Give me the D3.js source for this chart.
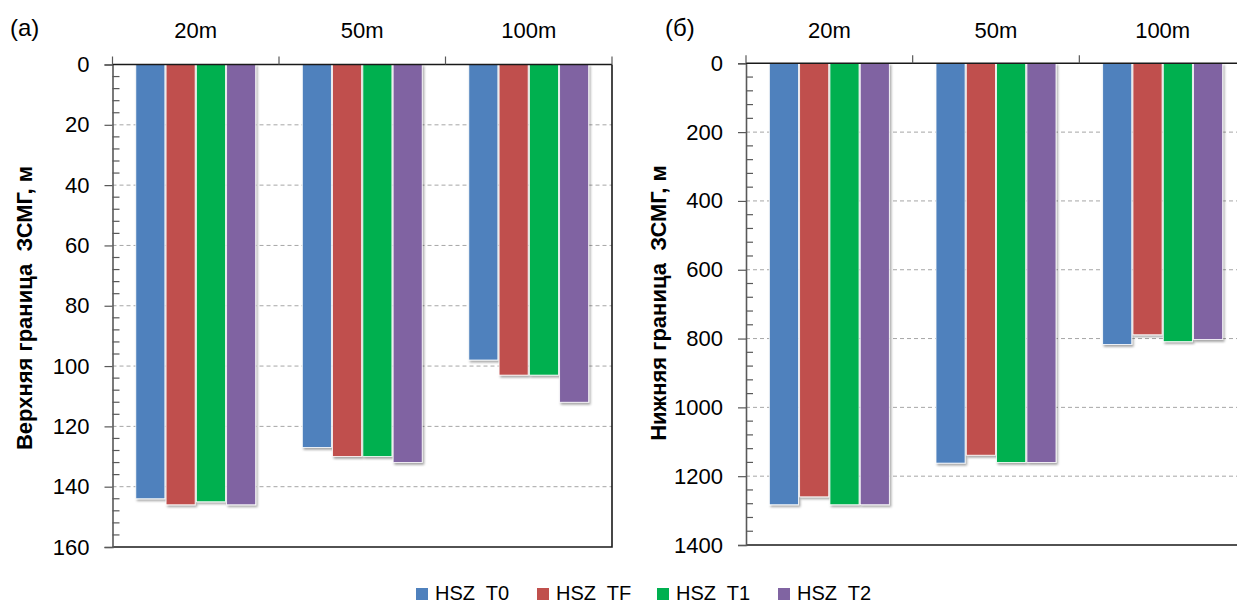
<!DOCTYPE html>
<html>
<head>
<meta charset="utf-8">
<script src="https://cdn.jsdelivr.net/npm/d3@7"></script>
<style>
  html, body { margin: 0; padding: 0; background: #ffffff; }
  svg { display: block; font-family: "Liberation Sans", Arial, sans-serif; }
  text { white-space: pre; }
</style>
</head>
<body>
<svg id="chart" width="1237" height="603"></svg>
<script>
// ---- data ----
const categories = ["20m", "50m", "100m"];
const seriesNames = ["HSZ  T0", "HSZ  TF", "HSZ  T1", "HSZ  T2"];
const seriesColors = ["#4F81BD", "#C0504D", "#00B050", "#8064A2"];

// (а) upper boundary of the hydrate stability zone, m
const upperT0 = [144, 127, 98];
const upperTF = [146, 130, 103];
const upperT1 = [145, 130, 103];
const upperT2 = [146, 132, 112];

// (б) lower boundary of the hydrate stability zone, m
const lowerT0 = [1283, 1162, 817];
const lowerTF = [1260, 1139, 789];
const lowerT1 = [1283, 1160, 809];
const lowerT2 = [1283, 1160, 803];

const upperTicks = [0, 20, 40, 60, 80, 100, 120, 140, 160];
const lowerTicks = [0, 200, 400, 600, 800, 1000, 1200, 1400];

const panelLetters = ["(а)", "(б)"];
const axisTitles = ["Верхняя граница  ЗСМГ, м", "Нижняя граница  ЗСМГ, м"];

// ---- drawing ----
const svg = d3.select("#chart");
const defs = svg.append("defs");
const f = defs.append("filter").attr("id", "shadow")
  .attr("x", "-20%").attr("y", "-5%").attr("width", "150%").attr("height", "120%");
f.append("feDropShadow").attr("dx", 1.5).attr("dy", 2).attr("stdDeviation", 1.2)
  .attr("flood-color", "#000").attr("flood-opacity", 0.35);

function drawPanel(cfg) {
  const { left, right, top, bottom, max, ticks, minorStep, series, letter, title, letterX, titleX, titleY } = cfg;
  const g = svg.append("g");

  const y = d3.scaleLinear().domain([0, max]).range([top, bottom]);
  const xCat = d3.scaleBand().domain(categories).range([left, right]).padding(0);
  const xSer = d3.scaleBand().domain(seriesNames).range([0, xCat.bandwidth()])
    .paddingInner(0.04).paddingOuter(0.77);

  // gridlines
  g.append("g").selectAll("line")
    .data(ticks.filter(t => t > 0 && t < max))
    .join("line")
    .attr("x1", left).attr("x2", right)
    .attr("y1", d => y(d)).attr("y2", d => y(d))
    .attr("stroke", "#a6a6a6").attr("stroke-width", 1)
    .attr("stroke-dasharray", "4,3");

  // bars
  const rows = [];
  categories.forEach((c, i) => {
    seriesNames.forEach((s, j) => rows.push({ c, s, j, v: series[j][i] }));
  });
  g.append("g").selectAll("rect")
    .data(rows)
    .join("rect")
    .attr("x", d => xCat(d.c) + xSer(d.s))
    .attr("y", y(0))
    .attr("width", xSer.bandwidth())
    .attr("height", d => y(d.v) - y(0))
    .attr("fill", d => seriesColors[d.j])
    .attr("stroke", "#ffffff").attr("stroke-width", 0.8)
    .attr("filter", "url(#shadow)");

  // plot border right & bottom
  g.append("path")
    .attr("d", `M${right},${top}V${bottom}H${left}`)
    .attr("fill", "none").attr("stroke", "#1a1a1a").attr("stroke-width", 1.6);

  // y axis
  const yAxis = d3.axisLeft(y).tickValues(ticks).tickSize(8).tickPadding(15)
    .tickFormat(d3.format("d"));
  const ya = g.append("g").attr("transform", `translate(${left},0)`).call(yAxis);
  ya.select(".domain").attr("stroke", "#595959").attr("stroke-width", 1.6);
  ya.selectAll(".tick line").attr("stroke", "#595959").attr("stroke-width", 1.2);
  ya.selectAll(".tick text").attr("font-size", 22).attr("fill", "#000")
    .attr("font-family", "Liberation Sans, Arial, sans-serif");

  // minor ticks (inside)
  const minors = d3.range(0, max + 1e-9, minorStep).filter(v => !ticks.includes(v));
  g.append("g").selectAll("line").data(minors).join("line")
    .attr("x1", left).attr("x2", left + 7)
    .attr("y1", d => y(d)).attr("y2", d => y(d))
    .attr("stroke", "#595959").attr("stroke-width", 1.2);

  // top category axis
  g.append("line").attr("x1", left).attr("x2", right).attr("y1", top).attr("y2", top)
    .attr("stroke", "#1a1a1a").attr("stroke-width", 1.6);
  const bounds = categories.map(c => xCat(c)).concat([right]);
  g.append("g").selectAll("line").data(bounds).join("line")
    .attr("x1", d => d).attr("x2", d => d)
    .attr("y1", top - 8).attr("y2", top)
    .attr("stroke", "#595959").attr("stroke-width", 1.2);
  g.append("g").selectAll("text").data(categories).join("text")
    .attr("x", d => xCat(d) + xCat.bandwidth() / 2)
    .attr("y", 38)
    .attr("text-anchor", "middle")
    .attr("font-size", 22).attr("fill", "#000")
    .text(d => d);

  // panel letter
  svg.append("text").attr("x", letterX).attr("y", 36)
    .attr("font-size", 24).attr("fill", "#000").text(letter);

  // axis title
  svg.append("text")
    .attr("transform", `translate(${titleX},${titleY}) rotate(-90)`)
    .attr("text-anchor", "middle")
    .attr("font-size", 22).attr("font-weight", "bold").attr("fill", "#000")
    .text(title);
}

drawPanel({
  left: 112.5, right: 612, top: 64.5, bottom: 547, max: 160,
  ticks: upperTicks, minorStep: 4,
  series: [upperT0, upperTF, upperT1, upperT2],
  letter: panelLetters[0], title: axisTitles[0],
  letterX: 10, titleX: 32, titleY: 308
});
drawPanel({
  left: 746, right: 1246, top: 63.3, bottom: 545, max: 1400,
  ticks: lowerTicks, minorStep: 40,
  series: [lowerT0, lowerTF, lowerT1, lowerT2],
  letter: panelLetters[1], title: axisTitles[1],
  letterX: 665, titleX: 666, titleY: 303
});

// legend
const legendX = [416, 537, 657, 778];
const lg = svg.append("g");
seriesNames.forEach((s, i) => {
  lg.append("rect").attr("x", legendX[i]).attr("y", 588).attr("width", 12).attr("height", 12)
    .attr("fill", seriesColors[i]);
  lg.append("text").attr("x", legendX[i] + 19).attr("y", 600)
    .attr("font-size", 20).attr("fill", "#000").text(s);
});
</script>
</body>
</html>
